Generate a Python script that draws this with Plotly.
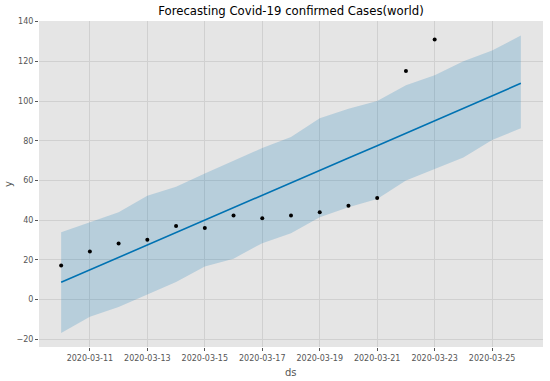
import plotly.graph_objects as go

# Observed data
obs_dates = ["2020-03-10", "2020-03-11", "2020-03-12", "2020-03-13", "2020-03-14",
             "2020-03-15", "2020-03-16", "2020-03-17", "2020-03-18", "2020-03-19",
             "2020-03-20", "2020-03-21", "2020-03-22", "2020-03-23"]
obs_values = [17.2, 24.2, 28.2, 30.1, 37.1, 36.1, 42.3, 40.9, 42.3, 44.0, 47.2, 51.2, 115.1, 131.0]

# Forecast
fc_dates = ["2020-03-10", "2020-03-11", "2020-03-12", "2020-03-13", "2020-03-14",
            "2020-03-15", "2020-03-16", "2020-03-17", "2020-03-18", "2020-03-19",
            "2020-03-20", "2020-03-21", "2020-03-22", "2020-03-23", "2020-03-24",
            "2020-03-25", "2020-03-26"]
yhat = [8.7, 15.0, 21.2, 27.5, 33.7, 40.0, 46.3, 52.5, 58.8, 65.0, 71.3, 77.5,
        83.8, 90.0, 96.3, 102.6, 108.9]
yhat_upper = [33.9, 38.9, 44.0, 52.3, 56.8, 63.5, 69.9, 76.3, 81.9, 91.3, 96.1, 100.0,
              108.0, 113.0, 120.0, 125.4, 133.0]
yhat_lower = [-16.8, -8.7, -3.7, 2.7, 8.8, 16.7, 20.6, 28.4, 33.4, 41.4, 46.5, 50.7,
              59.9, 65.7, 71.6, 80.3, 86.3]

x_tickvals = ["2020-03-11", "2020-03-13", "2020-03-15", "2020-03-17", "2020-03-19",
              "2020-03-21", "2020-03-23", "2020-03-25"]
x_ticktext = ["2020-03-11", "2020-03-13", "2020-03-15", "2020-03-17", "2020-03-19",
              "2020-03-21", "2020-03-23", "2020-03-25"]
y_tickvals = [-20, 0, 20, 40, 60, 80, 100, 120, 140]

title_text = "Forecasting Covid-19 confirmed Cases(world)"
x_title = "ds"
y_title = "y"

W, H = 550, 381
L, R, T, B = 39, 7, 21, 34

fig = go.Figure()
fig.add_trace(go.Scatter(x=fc_dates, y=yhat_lower, mode="lines", line=dict(width=0),
                         showlegend=False, hoverinfo="skip"))
fig.add_trace(go.Scatter(x=fc_dates, y=yhat_upper, mode="lines", line=dict(width=0),
                         fill="tonexty", fillcolor="rgba(0,114,178,0.2)",
                         showlegend=False, hoverinfo="skip"))
fig.add_trace(go.Scatter(x=fc_dates, y=yhat, mode="lines",
                         line=dict(color="#0072B2", width=1.6), showlegend=False))
fig.add_trace(go.Scatter(x=obs_dates, y=obs_values, mode="markers",
                         marker=dict(color="black", size=4), showlegend=False))

font_family = "DejaVu Sans"
fig.update_layout(
    width=W, height=H,
    margin=dict(l=L, r=R, t=T, b=B, autoexpand=False),
    paper_bgcolor="white",
    plot_bgcolor="#E5E5E5",
    title=dict(text=title_text, x=(L + W - R) / 2 / W, xanchor="center",
               y=1 - 10.5 / H, yanchor="middle",
               font=dict(family=font_family, size=11.7, color="black")),
    showlegend=False,
    annotations=[
        dict(text=x_title, xref="paper", yref="paper", x=0.5, y=-25 / (H - T - B),
             xanchor="center", yanchor="middle", showarrow=False,
             font=dict(family=font_family, size=10, color="#555555")),
        dict(text=y_title, xref="paper", yref="paper", x=-31 / (W - L - R), y=0.5,
             xanchor="center", yanchor="middle", showarrow=False, textangle=-90,
             font=dict(family=font_family, size=10, color="#555555")),
    ],
)
fig.update_xaxes(
    type="date", automargin=False,
    range=["2020-03-09 05:30", "2020-03-26 18:30"],
    tickvals=x_tickvals, ticktext=x_ticktext,
    showgrid=True, gridcolor="#D0D0D0", gridwidth=1,
    zeroline=False, showline=False,
    ticks="outside", ticklen=3, tickcolor="#555555",
    tickfont=dict(family=font_family, size=8, color="#555555"),
)
fig.update_yaxes(
    automargin=False,
    range=[-23.9, 140.3],
    tickvals=y_tickvals,
    showgrid=True, gridcolor="#D0D0D0", gridwidth=1,
    zeroline=False, showline=False,
    ticks="outside", ticklen=3, tickcolor="#555555",
    tickfont=dict(family=font_family, size=8, color="#555555"),
)

fig.write_html("out.html", config={"displayModeBar": False},
               post_script="document.body.style.margin='0px';")
